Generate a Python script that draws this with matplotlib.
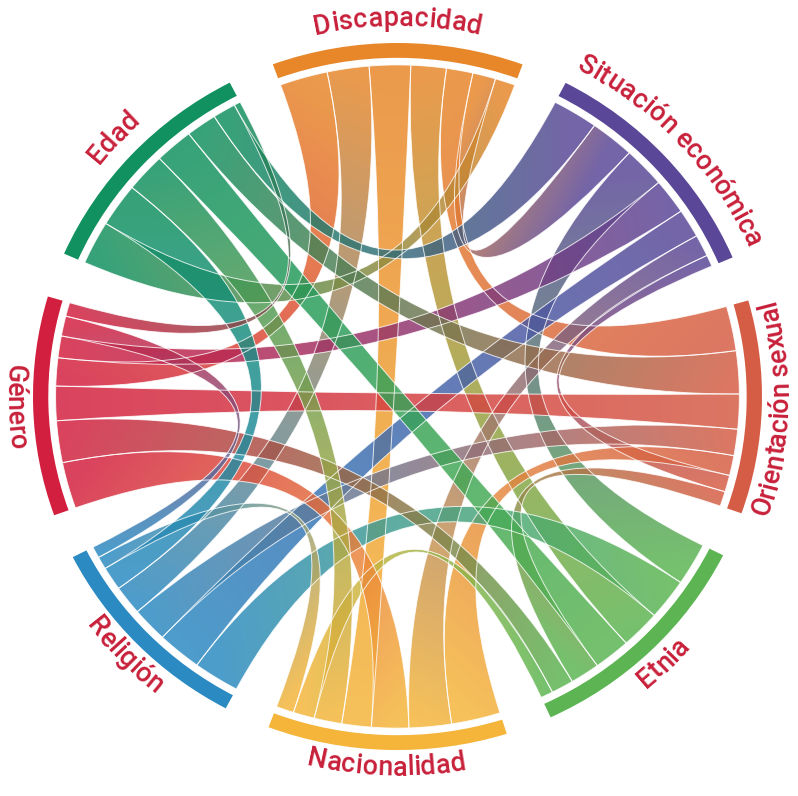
import numpy as np
import matplotlib
matplotlib.use('Agg')
import matplotlib.pyplot as plt
from matplotlib.path import Path
from matplotlib.patches import PathPatch, Wedge
from matplotlib.colors import to_rgb

# groups in clockwise order starting at the top
groups = ['Discapacidad', 'Situación económica', 'Orientación sexual', 'Etnia',
          'Nacionalidad', 'Religión', 'Género', 'Edad']
colors = ['#E8872A', '#5A4797', '#D65D45', '#5CB552',
          '#F5B53A', '#2B8AC2', '#D31F3F', '#11915F']

# outgoing flows of each group, largest first (clockwise)
disc_to = ['Género', 'Religión', 'Nacionalidad', 'Etnia', 'Orientación sexual', 'Situación económica', 'Edad']
disc_val = [81, 71, 70, 60, 45, 39, 34]
sit_to = ['Edad', 'Discapacidad', 'Etnia', 'Género', 'Religión', 'Nacionalidad', 'Orientación sexual']
sit_val = [77, 75, 71, 62, 50, 38, 20]
ori_to = ['Discapacidad', 'Edad', 'Género', 'Religión', 'Nacionalidad', 'Situación económica', 'Etnia']
ori_val = [78, 75, 61, 46, 35, 29, 26]
etn_to = ['Situación económica', 'Religión', 'Discapacidad', 'Edad', 'Orientación sexual', 'Género', 'Nacionalidad']
etn_val = [74, 72, 67, 62, 50, 38, 21]
nac_to = ['Orientación sexual', 'Situación económica', 'Género', 'Discapacidad', 'Edad', 'Etnia', 'Religión']
nac_val = [83, 72, 63, 50, 47, 36, 30]
rel_to = ['Etnia', 'Situación económica', 'Orientación sexual', 'Discapacidad', 'Edad', 'Nacionalidad', 'Género']
rel_val = [78, 75, 61, 51, 41, 22, 20]
gen_to = ['Nacionalidad', 'Etnia', 'Orientación sexual', 'Discapacidad', 'Situación económica', 'Religión', 'Edad']
gen_val = [81, 73, 60, 49, 38, 35, 24]
edad_to = ['Discapacidad', 'Religión', 'Nacionalidad', 'Etnia', 'Orientación sexual', 'Situación económica', 'Género']
edad_val = [76, 76, 68, 65, 52, 39, 11]

targets = [disc_to, sit_to, ori_to, etn_to, nac_to, rel_to, gen_to, edad_to]
values = [disc_val, sit_val, ori_val, etn_val, nac_val, rel_val, gen_val, edad_val]

label_color = '#C8203A'
font = ['Roboto', 'DejaVu Sans']

# chord layout (angles clockwise from 12 o'clock)
n = len(groups)
pad = np.deg2rad(7.4)
total = sum(sum(v) for v in values)
k = (2 * np.pi - n * pad) / total
theta = np.deg2rad(-20)
spans, sub = [], {}
for i in range(n):
    start = theta
    for t, v in zip(targets[i], values[i]):
        j = groups.index(t)
        sub[(i, j)] = (theta, theta + v * k)
        theta += v * k
    spans.append((start, theta))
    theta += pad

r_rib, r_in, r_out = 0.938, 0.958, 1.0


def pt(a, r):
    return np.array([r * np.sin(a), r * np.cos(a)])


def arc(a0, a1, r, num=40):
    a = np.linspace(a0, a1, num)
    return np.column_stack([r * np.sin(a), r * np.cos(a)])


fig = plt.figure(figsize=(7.98, 7.96), dpi=100)
ax = fig.add_axes([0, 0, 1, 1])
xlim = (-1.0905, 1.0988)
ylim = (-1.130, 1.1216)
ax.set_xlim(*xlim)
ax.set_ylim(*ylim)
ax.axis('off')

gx, gy = np.meshgrid(np.linspace(xlim[0], xlim[1], 300), np.linspace(ylim[0], ylim[1], 300))

for i in range(n):
    for j in range(i + 1, n):
        s0, s1 = sub[(i, j)]
        t0, t1 = sub[(j, i)]
        sa = arc(s0, s1, r_rib)
        ta = arc(t0, t1, r_rib)
        verts = list(sa) + [(0, 0), pt(t0, r_rib)] + list(ta[1:]) + [(0, 0), pt(s0, r_rib), (0, 0)]
        codes = ([Path.MOVETO] + [Path.LINETO] * (len(sa) - 1) + [Path.CURVE3] * 2 +
                 [Path.LINETO] * (len(ta) - 1) + [Path.CURVE3] * 2 + [Path.CLOSEPOLY])
        path = Path(verts, codes)
        # gradient from source colour to target colour
        m1 = pt((s0 + s1) / 2, r_rib)
        m2 = pt((t0 + t1) / 2, r_rib)
        d = m2 - m1
        tt = np.clip(((gx - m1[0]) * d[0] + (gy - m1[1]) * d[1]) / (d @ d), 0, 1)
        c1, c2 = np.array(to_rgb(colors[i])), np.array(to_rgb(colors[j]))
        img = (1 - tt)[..., None] * c1 + tt[..., None] * c2
        patch = PathPatch(path, transform=ax.transData, facecolor='none', edgecolor='none')
        ax.add_patch(patch)
        im = ax.imshow(img, extent=(*xlim, *ylim), origin='lower', alpha=0.84,
                       interpolation='bilinear', aspect='auto', zorder=2)
        im.set_clip_path(patch)
        ax.add_patch(PathPatch(path, facecolor='none', edgecolor='white', lw=0.7,
                               alpha=0.8, zorder=3))

ax.set_xlim(*xlim)
ax.set_ylim(*ylim)

# outer group arcs
for i in range(n):
    a0, a1 = spans[i]
    ax.add_patch(Wedge((0, 0), r_out, 90 - np.rad2deg(a1), 90 - np.rad2deg(a0),
                       width=r_out - r_in, facecolor=colors[i], edgecolor='none', zorder=4))

# curved labels
fig.canvas.draw()
renderer = fig.canvas.get_renderer()
fs = 19.5


def text_width(s):
    if not s:
        return 0.0
    t = ax.text(0, 0, s, fontsize=fs, family=font, fontweight='medium')
    w = t.get_window_extent(renderer).width
    t.remove()
    return w


for i, name in enumerate(groups):
    a0, a1 = spans[i]
    mid = (a0 + a1) / 2
    md = np.rad2deg(mid) % 360
    bottom = 80 < md < 280
    rb = 1.072 if bottom else 1.048
    rpx = rb * 359
    W = text_width(name)
    for c in range(len(name)):
        ch = name[c]
        if ch == ' ':
            continue
        cx = (text_width(name[:c]) + text_width(name[:c + 1])) / 2
        off = (cx - W / 2) / rpx
        a = mid - off if bottom else mid + off
        rot = 180 - np.rad2deg(a) if bottom else -np.rad2deg(a)
        x, y = pt(a, rb)
        ax.text(x, y, ch, fontsize=fs, family=font, fontweight='medium', color=label_color,
                rotation=rot, ha='center', va='baseline', rotation_mode='anchor', zorder=5)

fig.savefig('out.png', dpi=100)
